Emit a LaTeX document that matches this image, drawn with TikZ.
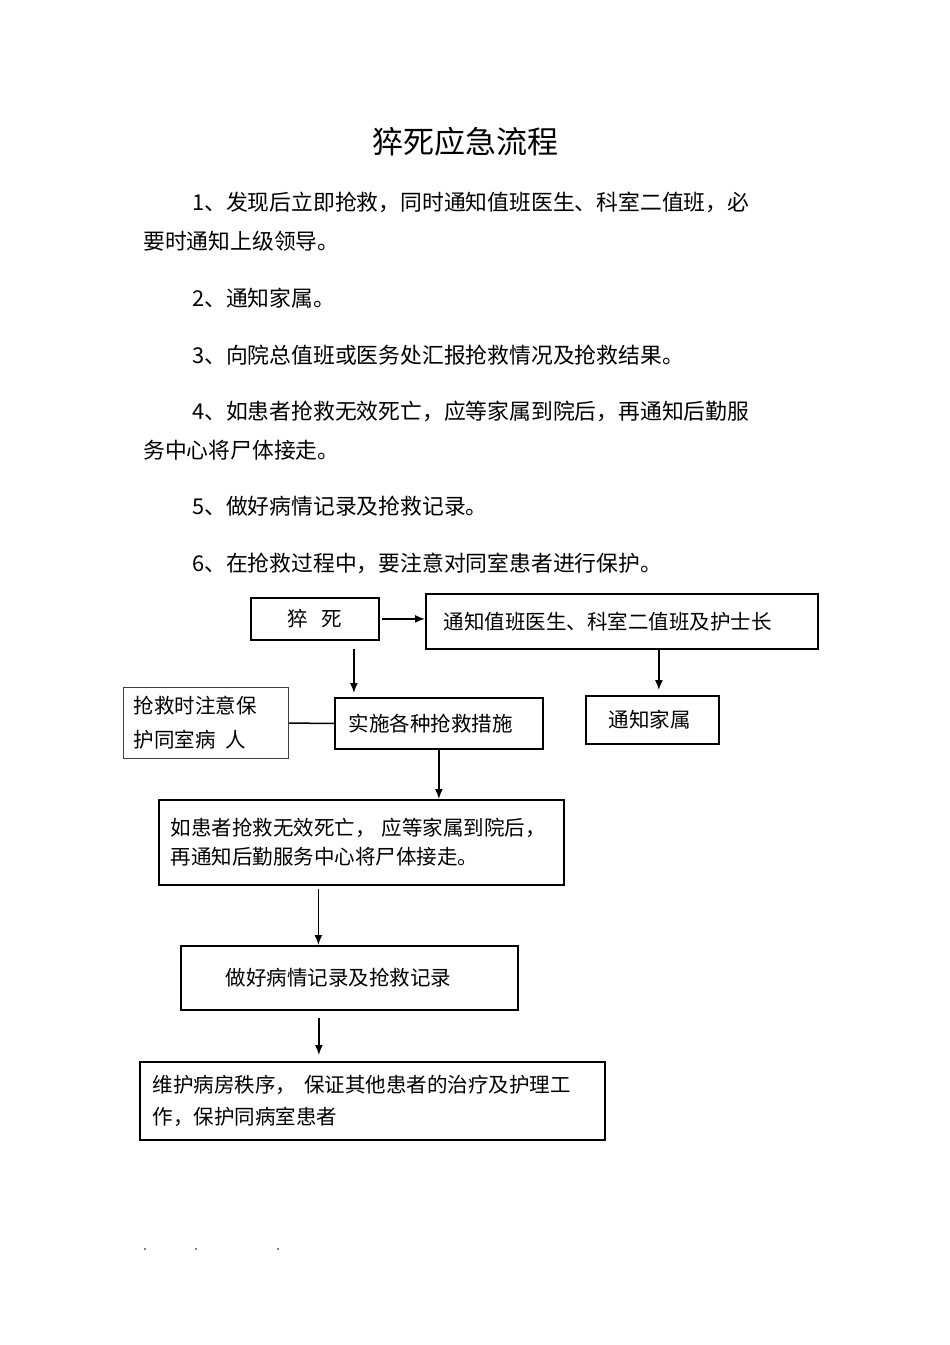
\documentclass[tikz,border=0pt]{standalone}
\usepackage{fontspec}
\setmainfont{Noto Sans CJK SC}
\usetikzlibrary{arrows.meta}
\begin{document}
\begin{tikzpicture}[x=1pt,y=-1pt,
  box/.style={draw, line width=1.8pt, anchor=north west, align=left, inner ysep=0pt,
    font=\fontsize{20.5}{30}\selectfont},
  para/.style={anchor=west, inner sep=0pt, font=\fontsize{21.8}{26}\selectfont},
  arr/.style={line width=1.5pt, -{Latex[length=10pt,width=8pt]}},
  link/.style={line width=1.5pt}]
\useasboundingbox[fill=white] (0,0) rectangle (950,1345);

% title and text
\node[font=\fontsize{31}{36}\selectfont, inner sep=0pt] (title) at (465,142) {猝死应急流程};
\node[para] (p1a) at (192,202) {1、发现后立即抢救，同时通知值班医生、科室二值班，必};
\node[para] (p1b) at (143,241) {要时通知上级领导。};
\node[para] (p2) at (192,298) {2、通知家属。};
\node[para] (p3) at (192,355) {3、向院总值班或医务处汇报抢救情况及抢救结果。};
\node[para] (p4a) at (192,411) {4、如患者抢救无效死亡，应等家属到院后，再通知后勤服};
\node[para] (p4b) at (143,450) {务中心将尸体接走。};
\node[para] (p5) at (192,506) {5、做好病情记录及抢救记录。};
\node[para] (p6) at (192,563) {6、在抢救过程中，要注意对同室患者进行保护。};

% boxes
\node[box, inner xsep=37pt, text width=54pt, minimum height=42pt] (sd) at (250,597) {猝\kern13pt死};
\node[box, inner xsep=18pt, text width=356pt, minimum height=55pt] (tz) at (425,593) {通知值班医生、科室二值班及护士长};
\node[box, inner xsep=23pt, text width=87pt, minimum height=48pt] (jz) at (585,695) {通知家属};
\node[box, line width=1.2pt, draw=black!75, inner xsep=10pt, text width=145pt, minimum height=71pt,
  font=\fontsize{20.5}{34}\selectfont] (qj) at (123,687) {抢救时注意保\\护同室病\kern10pt人};
\node[box, inner xsep=14pt, text width=180pt, minimum height=51pt] (ss) at (334,697) {实施各种抢救措施};
\node[box, inner xsep=12pt, text width=381pt, minimum height=85pt,
  font=\fontsize{20.5}{29}\selectfont] (rh) at (158,799) {如患者抢救无效死亡，\kern6pt应等家属到院后，\\再通知后勤服务中心将尸体接走。};
\node[box, inner xsep=45pt, text width=247pt, minimum height=64pt] (zh) at (180,945) {做好病情记录及抢救记录};
\node[box, line width=1.5pt, inner xsep=13pt, text width=439pt, minimum height=78pt,
  font=\fontsize{20.5}{32}\selectfont] (wh) at (139,1061) {维护病房秩序，\kern8pt保证其他患者的治疗及护理工\\作，保护同病室患者};

% connectors
\draw[arr, shorten <=2pt] (sd.east) -- (tz.west |- sd.east);
\draw[arr, shorten <=8pt, shorten >=4pt] ([xshift=39pt]sd.south) -- ([xshift=39pt]sd.south |- ss.north);
\draw[arr, shorten >=5pt] ([xshift=37pt]tz.south) -- ([xshift=37pt]tz.south |- jz.north);
\draw[link] (qj.east) -- (ss.west);
\draw[arr] (ss.south) -- (ss.south |- rh.north);
\draw[arr, shorten <=3pt] ([xshift=-43pt]rh.south) -- ([xshift=-43pt]rh.south |- zh.north);
\draw[arr, shorten <=7pt, shorten >=6pt] ([xshift=-30.5pt]zh.south) -- ([xshift=-30.5pt]zh.south |- wh.north);

% stray marks
\fill (145,1249) circle (0.9);
\fill (196,1249) circle (0.9);
\fill (278,1249) circle (0.9);
\end{tikzpicture}
\end{document}
